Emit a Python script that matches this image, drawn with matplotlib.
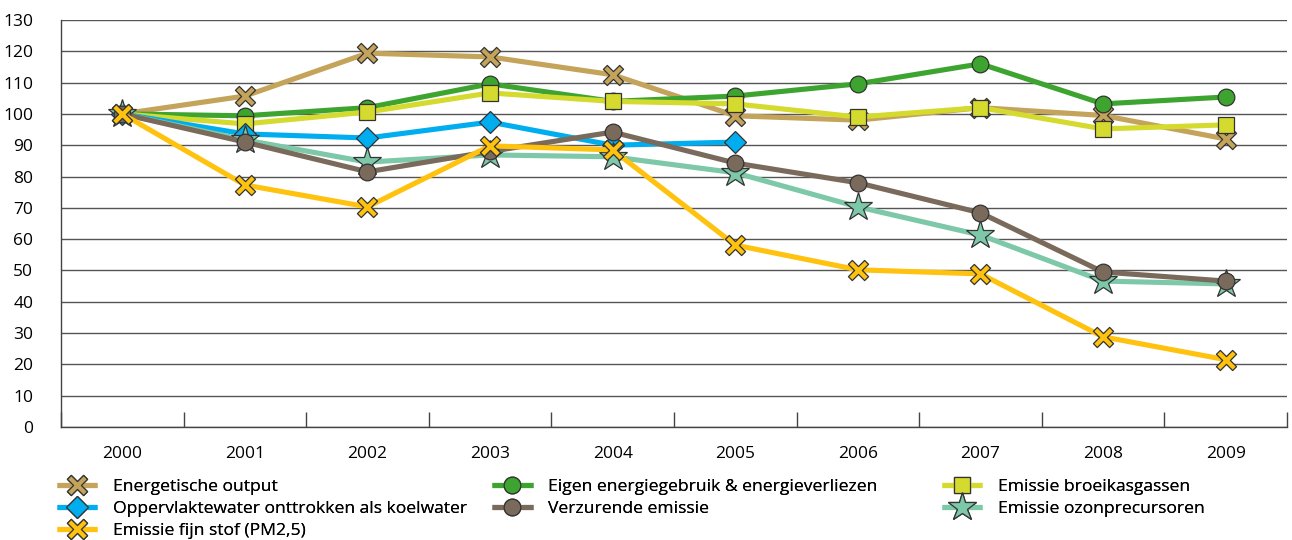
import matplotlib

matplotlib.use("Agg")

import matplotlib.pyplot as plt
import numpy as np
from matplotlib.path import Path

years = ["2000", "2001", "2002", "2003", "2004", "2005", "2006", "2007", "2008", "2009"]

energetische_output = [100, 105.7, 119.4, 118.2, 112.5, 99.4, 98.0, 102.0, 99.5, 92.0]
eigen_energiegebruik = [100, 99.4, 102.0, 109.6, 104.0, 105.7, 109.6, 116.0, 103.2, 105.4]
broeikasgassen = [100, 96.8, 100.6, 106.7, 104.0, 103.2, 99.0, 102.0, 95.2, 96.5]
oppervlaktewater = [100, 93.6, 92.3, 97.4, 90.0, 91.0]
verzurende_emissie = [100, 91.0, 81.5, 88.0, 94.2, 84.3, 78.0, 68.4, 49.5, 46.6]
ozonprecursoren = [100, 91.7, 84.6, 86.9, 86.3, 81.2, 70.3, 61.3, 46.6, 45.7]
fijn_stof = [100, 77.3, 70.3, 89.8, 88.5, 58.1, 50.2, 48.9, 28.8, 21.5]

y_ticks = list(range(0, 131, 10))


def thin_cross():
    # plus sign with slim arms, turned 45 degrees
    a, b = 0.12, 0.5
    pts = np.array([
        (a, a), (a, b), (-a, b), (-a, a), (-b, a), (-b, -a),
        (-a, -a), (-a, -b), (a, -b), (a, -a), (b, -a), (b, a), (a, a),
    ])
    c, s = np.cos(np.pi / 4), np.sin(np.pi / 4)
    rot = pts @ np.array([[c, s], [-s, c]])
    codes = [Path.MOVETO] + [Path.LINETO] * (len(rot) - 2) + [Path.CLOSEPOLY]
    return Path(rot, codes)


cross = thin_cross()

plt.rcParams["font.family"] = ["Open Sans", "DejaVu Sans"]
plt.rcParams["font.size"] = 12

fig = plt.figure(figsize=(12.92, 5.4), dpi=100)
ax = fig.add_axes([0.0472, 0.2093, 0.9489, 0.7537])

series = [
    ("Energetische output", energetische_output, "#C4A35A", cross, 14.5),
    ("Eigen energiegebruik & energieverliezen", eigen_energiegebruik, "#3DA52F", "o", 12),
    ("Emissie broeikasgassen", broeikasgassen, "#D5DA2E", "s", 11),
    ("Oppervlaktewater onttrokken als koelwater", oppervlaktewater, "#00AEEF", "D", 11),
    ("Emissie ozonprecursoren", ozonprecursoren, "#7DC8A8", "*", 21),
    ("Verzurende emissie", verzurende_emissie, "#7A6A5B", "o", 12),
    ("Emissie fijn stof (PM2,5)", fijn_stof, "#FFC20E", cross, 14.5),
]

handles = {}
for label, values, color, marker, size in series:
    x = np.arange(len(values))
    (line,) = ax.plot(
        x, values, color=color, linewidth=3.7, marker=marker, markersize=size,
        markerfacecolor=color, markeredgecolor="#333333", markeredgewidth=0.9,
        label=label, solid_capstyle="butt",
    )
    handles[label] = line

ax.set_xlim(-0.5, len(years) - 0.5)
ax.set_ylim(0, 130)
ax.set_yticks(y_ticks)
ax.set_yticklabels([str(t) for t in y_ticks])
ax.tick_params(axis="y", length=0, pad=20, labelsize=12.5)
ax.yaxis.grid(True, color="#555555", linewidth=1)
ax.set_axisbelow(True)

ax.set_xticks(np.arange(-0.5, len(years)), labels=[""] * (len(years) + 1))
ax.set_xticks(np.arange(len(years)), labels=years, minor=True)
ax.tick_params(axis="x", which="major", direction="in", length=11, color="#444444", width=1)
ax.tick_params(axis="x", which="minor", length=0, pad=14, labelsize=12.5)

for side in ["top", "right"]:
    ax.spines[side].set_visible(False)
for side in ["left", "bottom"]:
    ax.spines[side].set_color("#444444")
    ax.spines[side].set_linewidth(1)

legend_columns = [
    (0.044, ["Energetische output",
             "Oppervlaktewater onttrokken als koelwater",
             "Emissie fijn stof (PM2,5)"]),
    (0.381, ["Eigen energiegebruik & energieverliezen",
             "Verzurende emissie"]),
    (0.729, ["Emissie broeikasgassen",
             "Emissie ozonprecursoren"]),
]
for x0, labels in legend_columns:
    leg = fig.legend(
        [handles[k] for k in labels], labels,
        loc="upper left", bbox_to_anchor=(x0, 0.113), frameon=False,
        fontsize=12.6, handlelength=2.3, handletextpad=0.9,
        labelspacing=0.32, borderaxespad=0, borderpad=0,
    )
    fig.add_artist(leg)

fig.savefig("out.png", dpi=100)
